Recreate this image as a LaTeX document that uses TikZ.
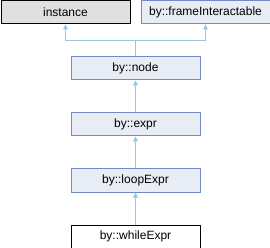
\documentclass[tikz,border=0pt]{standalone}
\usepackage{fontspec}
\setmainfont{Liberation Sans}
\usetikzlibrary{arrows.meta}
\definecolor{nodefill}{RGB}{232,236,245}
\definecolor{nodeborder}{RGB}{116,138,196}
\definecolor{greyfill}{RGB}{224,224,224}
\definecolor{edgecol}{RGB}{150,200,228}
\begin{document}
\begin{tikzpicture}[x=1pt,y=-1pt,
  cls/.style={draw=nodeborder,fill=nodefill,line width=1pt,minimum width=129pt,minimum height=23pt,inner sep=0pt,font=\fontsize{12}{14}\selectfont,anchor=north west},
  ext/.style={cls,draw=black,fill=greyfill},
  cur/.style={cls,draw=black,fill=white},
  inh/.style={draw=edgecol,line width=1pt,-{Triangle[width=5pt,length=5pt]}}]
\useasboundingbox (0,0) rectangle (270,248);
\node[ext] (inst) at (0.5,0.5) {instance};
\node[cls] (frame) at (140.5,0.5) {by::frameInteractable};
\node[cls] (node) at (70.5,56.5) {by::node};
\node[cls] (expr) at (70.5,112.5) {by::expr};
\node[cls] (loop) at (70.5,168.5) {by::loopExpr};
\node[cur] (while) at (70.5,224.5) {by::whileExpr};
\coordinate (j) at (node.north |- 0,40.5);
\draw[inh] (node.north) -- (j) -| (inst.south);
\draw[inh] (j) -| (frame.south);
\draw[inh] (expr.north) -- (node.south);
\draw[inh] (loop.north) -- (expr.south);
\draw[inh] (while.north) -- (loop.south);
\end{tikzpicture}
\end{document}
